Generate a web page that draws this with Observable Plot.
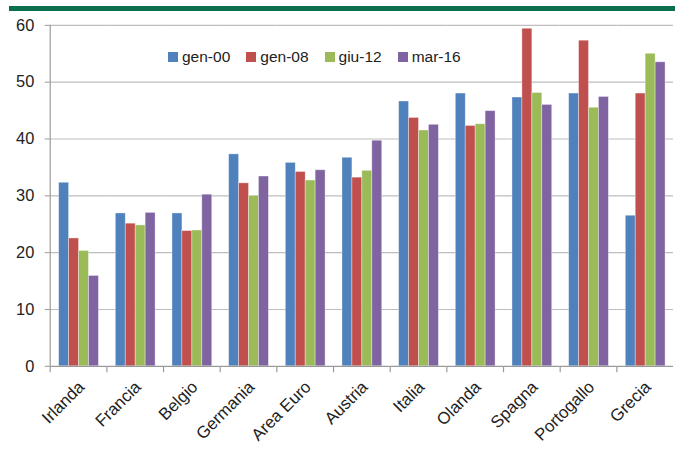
<!DOCTYPE html>
<html><head><meta charset="utf-8">
<script src="https://cdn.jsdelivr.net/npm/d3@7"></script>
<script src="https://cdn.jsdelivr.net/npm/@observablehq/plot@0.6"></script>
<style>
html,body{margin:0;padding:0;overflow:hidden;background:#fff;}
#wrap{position:relative;width:675px;height:450px;overflow:hidden;font-family:"Liberation Sans",Arial,sans-serif;}
#wrap svg{position:absolute;left:0;top:0;}
#band{position:absolute;left:9px;top:6px;width:666px;height:5px;background:#0b6e4f;}
#legend{position:absolute;left:168px;top:47px;display:flex;align-items:center;font-size:15.5px;color:#222;line-height:20px;}
#legend .item{display:inline-flex;align-items:center;margin-right:16px;}
#legend .sw{display:inline-block;width:10px;height:10px;margin-right:4px;}
</style></head>
<body>
<div id="wrap"><div id="band"></div><div id="legend"></div></div>
<script>
const countries = ["Irlanda","Francia","Belgio","Germania","Area Euro","Austria","Italia","Olanda","Spagna","Portogallo","Grecia"];
const series = ["gen-00","gen-08","giu-12","mar-16"];
const colors = ["#4f81bd","#c0504d","#9bbb59","#8064a2"];
const gen00 = [32.3, 26.9, 26.9, 37.3, 35.8, 36.7, 46.6, 48.0, 47.3, 48.0, 26.5];
const gen08 = [22.5, 25.1, 23.8, 32.2, 34.2, 33.2, 43.7, 42.3, 59.4, 57.3, 48.0];
const giu12 = [20.3, 24.8, 23.9, 30.0, 32.7, 34.4, 41.5, 42.6, 48.1, 45.5, 55.0];
const mar16 = [15.9, 27.0, 30.2, 33.4, 34.5, 39.7, 42.5, 44.9, 46.0, 47.4, 53.5];
const yTicks = [0, 10, 20, 30, 40, 50, 60];

const seriesValues = [gen00, gen08, giu12, mar16];
const rows = [];
countries.forEach((c, i) => series.forEach((s, j) => rows.push({country: c, series: s, value: seriesValues[j][i]})));

const chart = Plot.plot({
  width: 679, height: 450,
  marginLeft: 48, marginRight: 0, marginTop: 25, marginBottom: 82,
  style: {fontFamily: "Liberation Sans, Arial, sans-serif", fontSize: "15.5px", color: "#222", background: "transparent"},
  fx: {domain: countries, padding: 0, label: null},
  x: {domain: series, paddingInner: 0, paddingOuter: 0.78, axis: null},
  y: {domain: [0, 60], label: null},
  color: {domain: series, range: colors},
  marks: [
    Plot.ruleY(yTicks.slice(1), {stroke: "#bdbdbd", strokeWidth: 1.2}),
    Plot.barY(rows, {fx: "country", x: "series", y: "value", fill: "series", stroke: "#fff", strokeOpacity: 0.45, strokeWidth: 0.8}),
    Plot.ruleY([0], {stroke: "#9a9a9a", strokeWidth: 1.2}),
    Plot.axisY({ticks: yTicks, tickSize: 5, tickPadding: 11, stroke: "#9a9a9a", label: null, fontSize: 16.5}),
    Plot.axisFx({anchor: "bottom", tickRotate: -45, tickSize: 0, tickPadding: 18, dx: 3, label: null, fontSize: 17})
  ]
});
document.getElementById("wrap").appendChild(chart);

// axis line and band-boundary ticks, positioned with the plot's own scales
const fx = chart.scale("fx"), y = chart.scale("y");
const svg = d3.select(chart);
const g = svg.append("g").attr("stroke", "#9a9a9a").attr("stroke-width", 1.2);
const y0 = y.apply(0);
const x0 = fx.apply(countries[0]);
g.append("line").attr("x1", x0 + 0.5).attr("x2", x0 + 0.5).attr("y1", y.apply(60)).attr("y2", y0 + 0.5);
countries.forEach(c => {
  const xx = fx.apply(c) + 0.5;
  g.append("line").attr("x1", xx).attr("x2", xx).attr("y1", y0 + 0.5).attr("y2", y0 + 6.5);
});

// legend
const leg = d3.select("#legend");
series.forEach((s, i) => {
  const it = leg.append("span").attr("class", "item");
  it.append("span").attr("class", "sw").style("background", colors[i]);
  it.append("span").text(s);
});
</script>
</body></html>
